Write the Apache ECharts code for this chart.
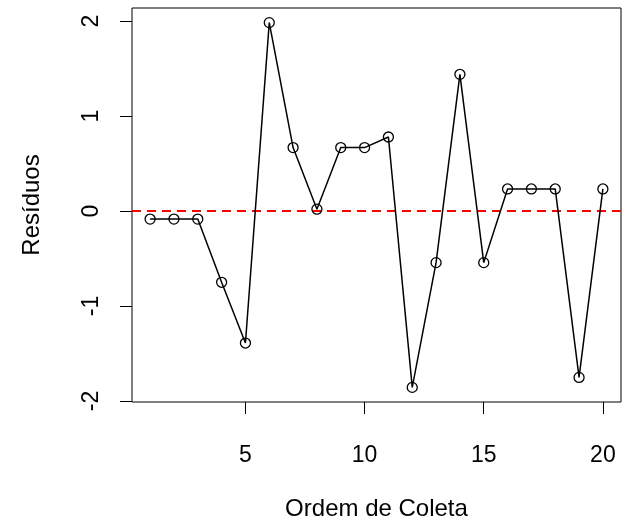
<!DOCTYPE html>
<html>
<head>
<meta charset="utf-8">
<script src="https://cdn.jsdelivr.net/npm/echarts@6/dist/echarts.min.js"></script>
<style>
  html, body { margin: 0; padding: 0; background: #fff; }
  #chart { width: 625px; height: 526px; }
</style>
</head>
<body>
<div id="chart"></div>
<script>
// Residuals plotted against collection order
const ordem = [1, 2, 3, 4, 5, 6, 7, 8, 9, 10, 11, 12, 13, 14, 15, 16, 17, 18, 19, 20];
const residuos = [-0.084, -0.084, -0.084, -0.75, -1.39, 1.985, 0.669, 0.02, 0.669, 0.669,
                  0.78, -1.857, -0.543, 1.44, -0.543, 0.233, 0.233, 0.233, -1.752, 0.233];
const xTicks = [5, 10, 15, 20];
const yTicks = [-2, -1, 0, 1, 2];

const font = 'Liberation Sans, Arial, sans-serif';
const fontSize = 23;

// axis ranges padded 4% on each side of the data
const xMin = 0.24, xMax = 20.76;
const yMin = -2.011, yMax = 2.139;

const chart = echarts.init(document.getElementById('chart'), null, { renderer: 'canvas' });

chart.setOption({
  animation: false,
  backgroundColor: '#ffffff',
  grid: {
    left: 132, right: 4, top: 8, bottom: 120,
    show: true, borderColor: '#000', borderWidth: 1, backgroundColor: 'transparent'
  },
  xAxis: {
    type: 'value',
    min: xMin, max: xMax,
    name: 'Ordem de Coleta',
    nameLocation: 'middle',
    nameGap: 95,
    nameTextStyle: { fontFamily: font, fontSize: 24, color: '#000' },
    axisLine: { show: false, onZero: false },
    splitLine: { show: false },
    axisTick: { show: true, inside: false, length: 12, customValues: xTicks,
                lineStyle: { color: '#000', width: 1 } },
    axisLabel: { show: true, customValues: xTicks, margin: 42,
                 fontFamily: font, fontSize: fontSize, color: '#000' }
  },
  yAxis: {
    type: 'value',
    min: yMin, max: yMax,
    name: 'Resíduos',
    nameLocation: 'middle',
    nameGap: 88,
    nameRotate: 90,
    nameTextStyle: { fontFamily: font, fontSize: 24, color: '#000' },
    axisLine: { show: false, onZero: false },
    splitLine: { show: false },
    axisTick: { show: true, inside: false, length: 12, customValues: yTicks,
                lineStyle: { color: '#000', width: 1 } },
    axisLabel: { show: true, customValues: yTicks, rotate: 90, margin: 29,
                 fontFamily: font, fontSize: fontSize, color: '#000' }
  },
  series: [{
    type: 'line',
    data: ordem.map((x, i) => [x, residuos[i]]),
    symbol: 'circle',
    symbolSize: 10,
    showSymbol: true,
    itemStyle: { color: 'rgba(255,255,255,0)', borderColor: '#000', borderWidth: 1.3 },
    lineStyle: { color: '#000', width: 1.5 },
    z: 3,
    markLine: {
      silent: true,
      symbol: ['none', 'none'],
      label: { show: false },
      lineStyle: { color: '#ff0000', width: 2, type: [9, 6] },
      data: [{ yAxis: 0 }],
      z: 2
    }
  }]
});
</script>
</body>
</html>
